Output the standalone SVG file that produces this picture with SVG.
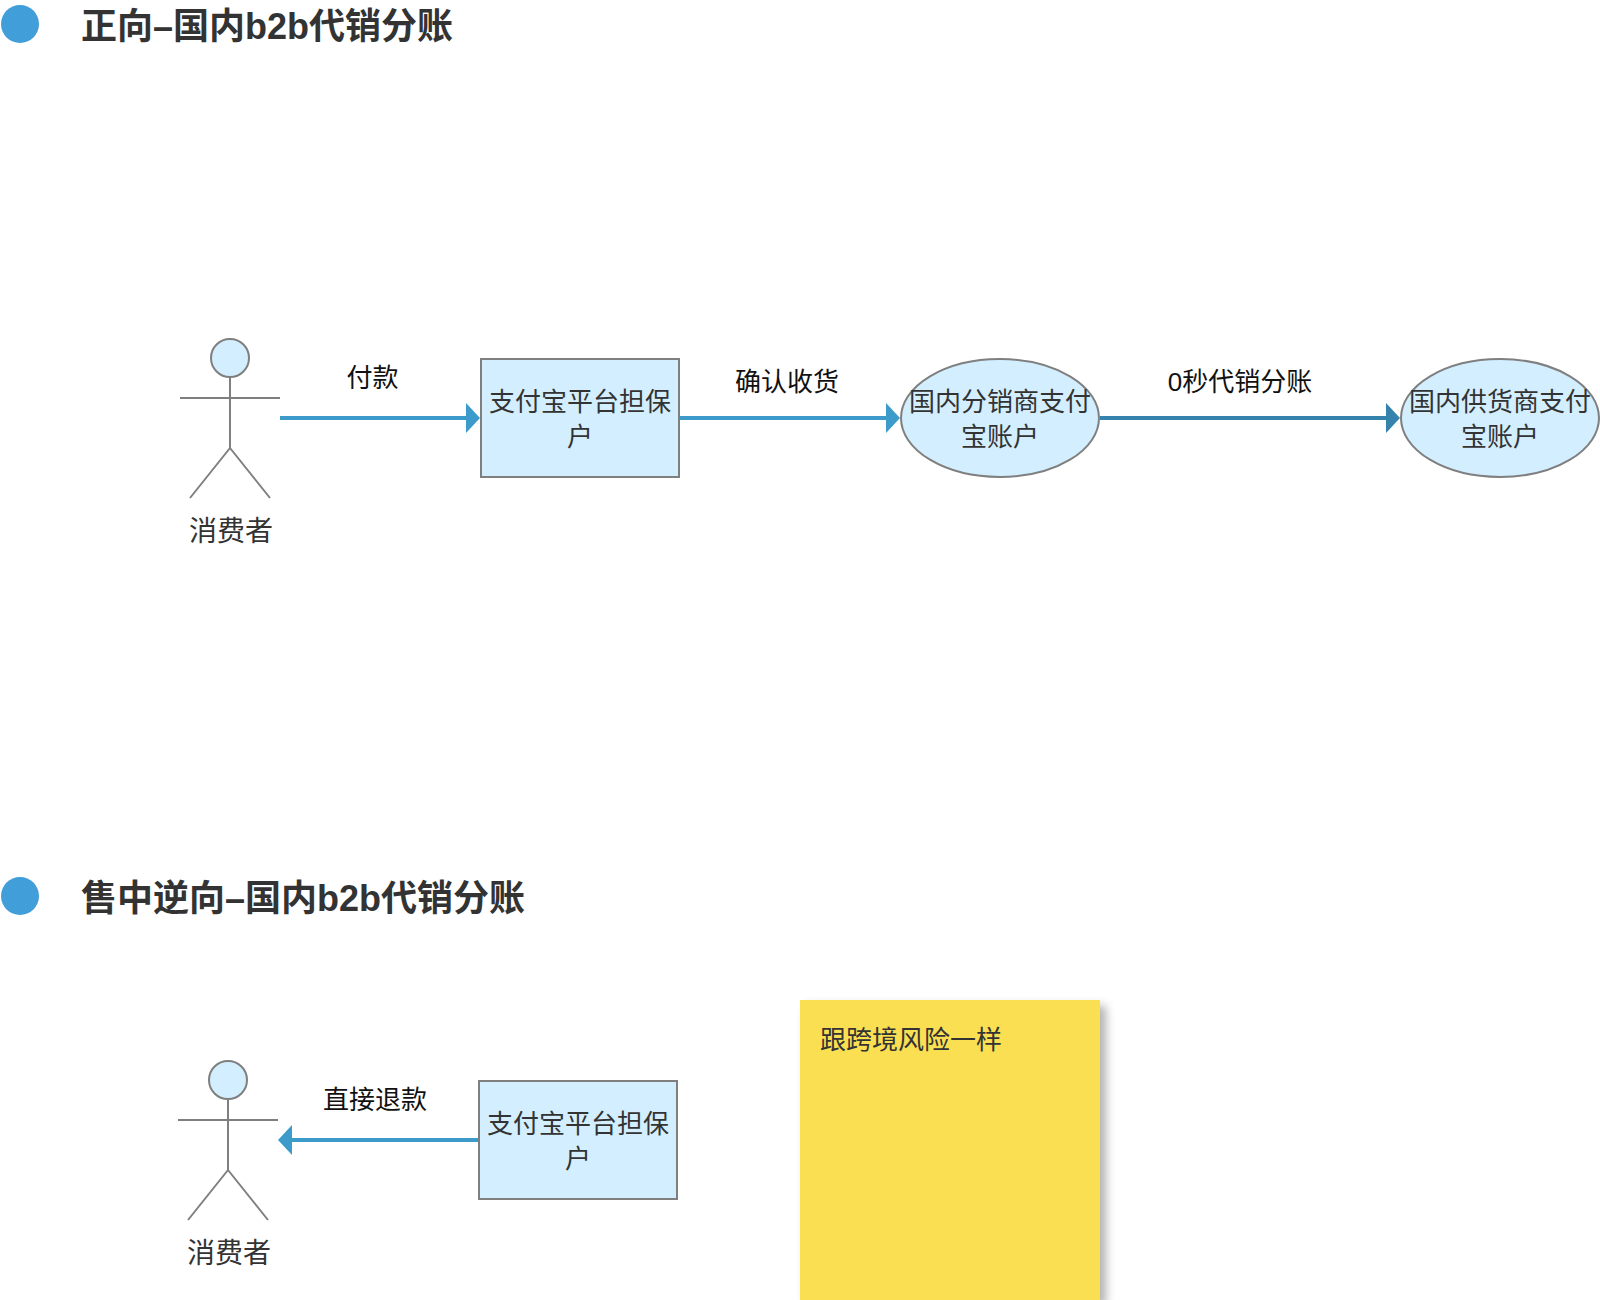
<svg xmlns="http://www.w3.org/2000/svg" width="1600" height="1300" viewBox="0 0 1600 1300">
<style>
text{font-family:"Liberation Sans","Noto Sans CJK SC",sans-serif;font-size:26px;fill:#333;text-anchor:middle}
.title{font-size:36px;font-weight:700;text-anchor:start}
.lab{fill:#111}
.shape{fill:#d3efff;stroke:#7f7f7f;stroke-width:2}
.stick{fill:none;stroke:#7f7f7f;stroke-width:2}
.dot{fill:#419ed8}
.conn{stroke:#3d9bcb;stroke-width:4;fill:none}
.head{fill:#3d9bcb}
</style>
<defs>
<filter id="sh" x="-10%" y="-10%" width="125%" height="125%"><feDropShadow dx="6" dy="6" stdDeviation="5" flood-color="#000" flood-opacity="0.3"/></filter>
</defs>
<g id="title1"><circle class="dot" cx="20" cy="24" r="19"/><text class="title" x="81" y="38.5">正向–国内b2b代销分账</text></g>
<g id="title2"><circle class="dot" cx="20" cy="896" r="19"/><text class="title" x="81" y="910.5">售中逆向–国内b2b代销分账</text></g>
<g id="connectors">
<line class="conn" x1="280" y1="418" x2="467" y2="418"/><polygon class="head" points="466,403 480,418 466,433"/>
<line class="conn" x1="680" y1="418" x2="887" y2="418"/><polygon class="head" points="886,403 900,418 886,433"/>
<line class="conn" style="stroke:#3583ac" x1="1100" y1="418" x2="1387" y2="418"/><polygon class="head" style="fill:#3583ac" points="1386,403 1400,418 1386,433"/>
<line class="conn" x1="478" y1="1140" x2="291" y2="1140"/><polygon class="head" points="292,1125 278,1140 292,1155"/>
<text class="lab" x="372.5" y="386.5">付款</text>
<text class="lab" x="787" y="390.5">确认收货</text>
<text class="lab" x="1240" y="390.5">0秒代销分账</text>
<text class="lab" x="375" y="1108.5">直接退款</text>
</g>
<g id="actor1"><circle class="shape" cx="230" cy="358" r="19"/><path class="stick" d="M230 378V448M180 398H280M230 448L190 498M230 448L270 498"/><text style="font-size:28px" x="231" y="541">消费者</text></g>
<g id="box1"><rect class="shape" x="481" y="359" width="198" height="118"/><text x="580" y="410.5">支付宝平台担保</text><text x="580" y="446">户</text></g>
<g id="ellipse1"><ellipse class="shape" cx="1000" cy="418" rx="99" ry="59"/><text x="1000" y="410.5">国内分销商支付</text><text x="1000" y="446">宝账户</text></g>
<g id="ellipse2"><ellipse class="shape" cx="1500" cy="418" rx="99" ry="59"/><text x="1500" y="410.5">国内供货商支付</text><text x="1500" y="446">宝账户</text></g>
<g id="actor2"><circle class="shape" cx="228" cy="1080" r="19"/><path class="stick" d="M228 1100V1170M178 1120H278M228 1170L188 1220M228 1170L268 1220"/><text style="font-size:28px" x="229" y="1263">消费者</text></g>
<g id="box2"><rect class="shape" x="479" y="1081" width="198" height="118"/><text x="578" y="1132.5">支付宝平台担保</text><text x="578" y="1168">户</text></g>
<g id="note"><rect x="800" y="1000" width="300" height="300" fill="#fadf52" filter="url(#sh)"/><text style="text-anchor:start" x="820" y="1048.5">跟跨境风险一样</text></g>
</svg>
